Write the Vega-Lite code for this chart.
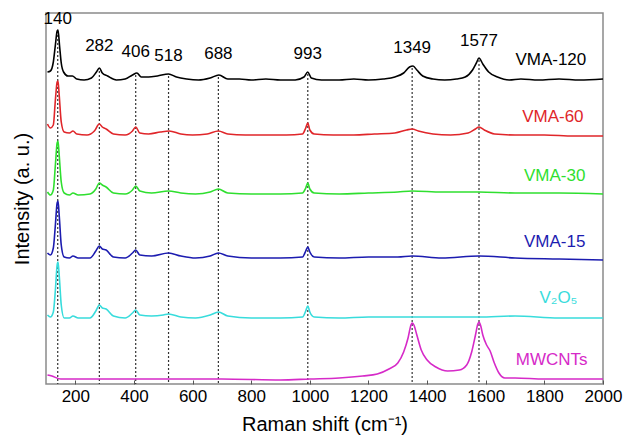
{
  "$schema": "https://vega.github.io/schema/vega-lite/v6.json",
  "width": 557,
  "height": 371,
  "autosize": "none",
  "padding": {"left": 46, "top": 13, "right": 24, "bottom": 51},
  "background": "white",
  "config": {
    "view": {"stroke": "#8a8a8a", "strokeWidth": 1.5},
    "font": "Liberation Sans"
  },
  "datasets": {
    "spec": [
      {"s":"VMA-120","x":105,"y":311},{"s":"VMA-120","x":115,"y":312},{"s":"VMA-120","x":125,"y":321},{"s":"VMA-120","x":132,"y":338},{"s":"VMA-120","x":138,"y":352},{"s":"VMA-120","x":141,"y":353},{"s":"VMA-120","x":146,"y":338},{"s":"VMA-120","x":152,"y":320},{"s":"VMA-120","x":160,"y":311},{"s":"VMA-120","x":175,"y":307},{"s":"VMA-120","x":190,"y":307},{"s":"VMA-120","x":205,"y":304},{"s":"VMA-120","x":230,"y":303},{"s":"VMA-120","x":255,"y":305},{"s":"VMA-120","x":272,"y":311},{"s":"VMA-120","x":282,"y":315},{"s":"VMA-120","x":292,"y":310},{"s":"VMA-120","x":310,"y":307},{"s":"VMA-120","x":340,"y":303},{"s":"VMA-120","x":370,"y":304},{"s":"VMA-120","x":395,"y":308},{"s":"VMA-120","x":410,"y":310},{"s":"VMA-120","x":425,"y":306},{"s":"VMA-120","x":450,"y":306},{"s":"VMA-120","x":480,"y":307},{"s":"VMA-120","x":518,"y":309},{"s":"VMA-120","x":545,"y":306},{"s":"VMA-120","x":580,"y":304},{"s":"VMA-120","x":620,"y":303},{"s":"VMA-120","x":660,"y":305},{"s":"VMA-120","x":690,"y":308},{"s":"VMA-120","x":720,"y":304},{"s":"VMA-120","x":760,"y":304},{"s":"VMA-120","x":800,"y":303},{"s":"VMA-120","x":850,"y":304},{"s":"VMA-120","x":900,"y":303},{"s":"VMA-120","x":950,"y":303},{"s":"VMA-120","x":980,"y":306},{"s":"VMA-120","x":993,"y":311},{"s":"VMA-120","x":1005,"y":305},{"s":"VMA-120","x":1040,"y":303},{"s":"VMA-120","x":1100,"y":303},{"s":"VMA-120","x":1150,"y":304},{"s":"VMA-120","x":1200,"y":303},{"s":"VMA-120","x":1250,"y":304},{"s":"VMA-120","x":1290,"y":306},{"s":"VMA-120","x":1320,"y":310},{"s":"VMA-120","x":1340,"y":316},{"s":"VMA-120","x":1352,"y":317},{"s":"VMA-120","x":1365,"y":313},{"s":"VMA-120","x":1385,"y":307},{"s":"VMA-120","x":1420,"y":304},{"s":"VMA-120","x":1460,"y":303},{"s":"VMA-120","x":1500,"y":304},{"s":"VMA-120","x":1530,"y":306},{"s":"VMA-120","x":1555,"y":313},{"s":"VMA-120","x":1568,"y":320},{"s":"VMA-120","x":1577,"y":325},{"s":"VMA-120","x":1590,"y":319},{"s":"VMA-120","x":1610,"y":311},{"s":"VMA-120","x":1640,"y":306},{"s":"VMA-120","x":1680,"y":303},{"s":"VMA-120","x":1720,"y":304},{"s":"VMA-120","x":1780,"y":303},{"s":"VMA-120","x":1850,"y":304},{"s":"VMA-120","x":1920,"y":303},{"s":"VMA-120","x":2000,"y":304},

      {"s":"VMA-60","x":105,"y":259},{"s":"VMA-60","x":115,"y":255},{"s":"VMA-60","x":125,"y":258},{"s":"VMA-60","x":132,"y":283},{"s":"VMA-60","x":138,"y":301},{"s":"VMA-60","x":141,"y":302},{"s":"VMA-60","x":145,"y":288},{"s":"VMA-60","x":152,"y":261},{"s":"VMA-60","x":162,"y":251},{"s":"VMA-60","x":180,"y":250},{"s":"VMA-60","x":192,"y":252},{"s":"VMA-60","x":205,"y":249},{"s":"VMA-60","x":240,"y":248},{"s":"VMA-60","x":265,"y":252},{"s":"VMA-60","x":282,"y":259},{"s":"VMA-60","x":292,"y":256},{"s":"VMA-60","x":305,"y":254},{"s":"VMA-60","x":330,"y":249},{"s":"VMA-60","x":370,"y":248},{"s":"VMA-60","x":395,"y":252},{"s":"VMA-60","x":406,"y":256},{"s":"VMA-60","x":420,"y":250},{"s":"VMA-60","x":450,"y":249},{"s":"VMA-60","x":490,"y":251},{"s":"VMA-60","x":520,"y":252},{"s":"VMA-60","x":560,"y":249},{"s":"VMA-60","x":600,"y":248},{"s":"VMA-60","x":650,"y":249},{"s":"VMA-60","x":688,"y":252},{"s":"VMA-60","x":720,"y":249},{"s":"VMA-60","x":780,"y":248},{"s":"VMA-60","x":850,"y":248},{"s":"VMA-60","x":920,"y":248},{"s":"VMA-60","x":975,"y":249},{"s":"VMA-60","x":986,"y":255},{"s":"VMA-60","x":993,"y":260},{"s":"VMA-60","x":1000,"y":253},{"s":"VMA-60","x":1015,"y":249},{"s":"VMA-60","x":1080,"y":248},{"s":"VMA-60","x":1150,"y":248},{"s":"VMA-60","x":1220,"y":249},{"s":"VMA-60","x":1290,"y":250},{"s":"VMA-60","x":1330,"y":253},{"s":"VMA-60","x":1349,"y":254},{"s":"VMA-60","x":1370,"y":252},{"s":"VMA-60","x":1420,"y":249},{"s":"VMA-60","x":1480,"y":248},{"s":"VMA-60","x":1540,"y":250},{"s":"VMA-60","x":1565,"y":254},{"s":"VMA-60","x":1577,"y":256},{"s":"VMA-60","x":1595,"y":253},{"s":"VMA-60","x":1630,"y":249},{"s":"VMA-60","x":1700,"y":248},{"s":"VMA-60","x":1800,"y":248},{"s":"VMA-60","x":1900,"y":247},{"s":"VMA-60","x":2000,"y":247},

      {"s":"VMA-30","x":105,"y":191},{"s":"VMA-30","x":115,"y":188},{"s":"VMA-30","x":125,"y":193},{"s":"VMA-30","x":132,"y":218},{"s":"VMA-30","x":138,"y":240},{"s":"VMA-30","x":141,"y":242},{"s":"VMA-30","x":145,"y":228},{"s":"VMA-30","x":152,"y":201},{"s":"VMA-30","x":162,"y":190},{"s":"VMA-30","x":180,"y":188},{"s":"VMA-30","x":192,"y":190},{"s":"VMA-30","x":210,"y":188},{"s":"VMA-30","x":250,"y":189},{"s":"VMA-30","x":270,"y":194},{"s":"VMA-30","x":282,"y":200},{"s":"VMA-30","x":292,"y":198},{"s":"VMA-30","x":305,"y":196},{"s":"VMA-30","x":330,"y":190},{"s":"VMA-30","x":370,"y":189},{"s":"VMA-30","x":395,"y":193},{"s":"VMA-30","x":406,"y":197},{"s":"VMA-30","x":420,"y":192},{"s":"VMA-30","x":460,"y":190},{"s":"VMA-30","x":518,"y":192},{"s":"VMA-30","x":560,"y":190},{"s":"VMA-30","x":610,"y":189},{"s":"VMA-30","x":660,"y":191},{"s":"VMA-30","x":688,"y":194},{"s":"VMA-30","x":720,"y":190},{"s":"VMA-30","x":800,"y":189},{"s":"VMA-30","x":900,"y":189},{"s":"VMA-30","x":975,"y":190},{"s":"VMA-30","x":986,"y":195},{"s":"VMA-30","x":993,"y":200},{"s":"VMA-30","x":1000,"y":194},{"s":"VMA-30","x":1015,"y":190},{"s":"VMA-30","x":1100,"y":189},{"s":"VMA-30","x":1200,"y":190},{"s":"VMA-30","x":1300,"y":191},{"s":"VMA-30","x":1349,"y":192},{"s":"VMA-30","x":1450,"y":191},{"s":"VMA-30","x":1577,"y":191},{"s":"VMA-30","x":1700,"y":190},{"s":"VMA-30","x":1850,"y":190},{"s":"VMA-30","x":2000,"y":189},

      {"s":"VMA-15","x":105,"y":130},{"s":"VMA-15","x":115,"y":128},{"s":"VMA-15","x":125,"y":135},{"s":"VMA-15","x":132,"y":158},{"s":"VMA-15","x":138,"y":180},{"s":"VMA-15","x":141,"y":182},{"s":"VMA-15","x":145,"y":168},{"s":"VMA-15","x":152,"y":138},{"s":"VMA-15","x":162,"y":126},{"s":"VMA-15","x":180,"y":125},{"s":"VMA-15","x":192,"y":127},{"s":"VMA-15","x":210,"y":125},{"s":"VMA-15","x":250,"y":125},{"s":"VMA-15","x":270,"y":132},{"s":"VMA-15","x":282,"y":137},{"s":"VMA-15","x":292,"y":134},{"s":"VMA-15","x":305,"y":133},{"s":"VMA-15","x":330,"y":126},{"s":"VMA-15","x":370,"y":125},{"s":"VMA-15","x":395,"y":130},{"s":"VMA-15","x":406,"y":133},{"s":"VMA-15","x":420,"y":128},{"s":"VMA-15","x":460,"y":127},{"s":"VMA-15","x":518,"y":130},{"s":"VMA-15","x":560,"y":127},{"s":"VMA-15","x":610,"y":125},{"s":"VMA-15","x":660,"y":127},{"s":"VMA-15","x":688,"y":130},{"s":"VMA-15","x":720,"y":127},{"s":"VMA-15","x":800,"y":125},{"s":"VMA-15","x":900,"y":125},{"s":"VMA-15","x":975,"y":126},{"s":"VMA-15","x":986,"y":132},{"s":"VMA-15","x":993,"y":136},{"s":"VMA-15","x":1000,"y":131},{"s":"VMA-15","x":1015,"y":126},{"s":"VMA-15","x":1100,"y":125},{"s":"VMA-15","x":1200,"y":126},{"s":"VMA-15","x":1300,"y":126},{"s":"VMA-15","x":1349,"y":127},{"s":"VMA-15","x":1450,"y":125},{"s":"VMA-15","x":1577,"y":127},{"s":"VMA-15","x":1700,"y":125},{"s":"VMA-15","x":1850,"y":124},{"s":"VMA-15","x":2000,"y":123},

      {"s":"V2O5","x":105,"y":68},{"s":"V2O5","x":115,"y":66},{"s":"V2O5","x":125,"y":71},{"s":"V2O5","x":132,"y":93},{"s":"V2O5","x":138,"y":118},{"s":"V2O5","x":141,"y":121},{"s":"V2O5","x":145,"y":108},{"s":"V2O5","x":152,"y":78},{"s":"V2O5","x":162,"y":65},{"s":"V2O5","x":180,"y":65},{"s":"V2O5","x":192,"y":67},{"s":"V2O5","x":210,"y":65},{"s":"V2O5","x":250,"y":65},{"s":"V2O5","x":270,"y":72},{"s":"V2O5","x":282,"y":78},{"s":"V2O5","x":292,"y":75},{"s":"V2O5","x":305,"y":74},{"s":"V2O5","x":330,"y":67},{"s":"V2O5","x":370,"y":65},{"s":"V2O5","x":395,"y":70},{"s":"V2O5","x":406,"y":73},{"s":"V2O5","x":420,"y":68},{"s":"V2O5","x":460,"y":67},{"s":"V2O5","x":500,"y":68},{"s":"V2O5","x":518,"y":69},{"s":"V2O5","x":560,"y":66},{"s":"V2O5","x":610,"y":65},{"s":"V2O5","x":660,"y":68},{"s":"V2O5","x":688,"y":71},{"s":"V2O5","x":720,"y":67},{"s":"V2O5","x":800,"y":65},{"s":"V2O5","x":900,"y":65},{"s":"V2O5","x":975,"y":66},{"s":"V2O5","x":986,"y":72},{"s":"V2O5","x":993,"y":77},{"s":"V2O5","x":1000,"y":71},{"s":"V2O5","x":1015,"y":66},{"s":"V2O5","x":1100,"y":65},{"s":"V2O5","x":1200,"y":66},{"s":"V2O5","x":1300,"y":66},{"s":"V2O5","x":1349,"y":66},{"s":"V2O5","x":1450,"y":66},{"s":"V2O5","x":1577,"y":66},{"s":"V2O5","x":1700,"y":67},{"s":"V2O5","x":1850,"y":65},{"s":"V2O5","x":2000,"y":65},

      {"s":"MWCNTs","x":105,"y":8},{"s":"MWCNTs","x":120,"y":7},{"s":"MWCNTs","x":150,"y":4},{"s":"MWCNTs","x":300,"y":4},{"s":"MWCNTs","x":500,"y":4},{"s":"MWCNTs","x":700,"y":4},{"s":"MWCNTs","x":900,"y":3},{"s":"MWCNTs","x":1000,"y":4},{"s":"MWCNTs","x":1100,"y":5},{"s":"MWCNTs","x":1180,"y":7},{"s":"MWCNTs","x":1230,"y":9},{"s":"MWCNTs","x":1270,"y":14},{"s":"MWCNTs","x":1300,"y":20},{"s":"MWCNTs","x":1320,"y":31},{"s":"MWCNTs","x":1335,"y":45},{"s":"MWCNTs","x":1345,"y":58},{"s":"MWCNTs","x":1349,"y":60},{"s":"MWCNTs","x":1355,"y":58},{"s":"MWCNTs","x":1365,"y":48},{"s":"MWCNTs","x":1380,"y":33},{"s":"MWCNTs","x":1400,"y":23},{"s":"MWCNTs","x":1430,"y":16},{"s":"MWCNTs","x":1470,"y":12},{"s":"MWCNTs","x":1510,"y":13},{"s":"MWCNTs","x":1535,"y":18},{"s":"MWCNTs","x":1552,"y":31},{"s":"MWCNTs","x":1565,"y":48},{"s":"MWCNTs","x":1573,"y":59},{"s":"MWCNTs","x":1577,"y":61},{"s":"MWCNTs","x":1583,"y":57},{"s":"MWCNTs","x":1590,"y":48},{"s":"MWCNTs","x":1603,"y":38},{"s":"MWCNTs","x":1615,"y":32},{"s":"MWCNTs","x":1628,"y":21},{"s":"MWCNTs","x":1645,"y":10},{"s":"MWCNTs","x":1665,"y":5},{"s":"MWCNTs","x":1700,"y":5},{"s":"MWCNTs","x":1800,"y":4},{"s":"MWCNTs","x":2000,"y":4}
    ],
    "peaks": [
      {"p":140,"top":352,"ly":355},
      {"p":282,"top":312,"ly":328},
      {"p":406,"top":308,"ly":322},
      {"p":518,"top":307,"ly":318},
      {"p":688,"top":306,"ly":320},
      {"p":993,"top":309,"ly":320},
      {"p":1349,"top":315,"ly":326},
      {"p":1577,"top":323,"ly":333}
    ],
    "labels": [
      {"s":"VMA-120","t":"VMA-120","x":1822,"y":323},
      {"s":"VMA-60","t":"VMA-60","x":1829,"y":266},
      {"s":"VMA-30","t":"VMA-30","x":1835,"y":207},
      {"s":"VMA-15","t":"VMA-15","x":1835,"y":141},
      {"s":"V2O5","t":"V₂O₅","x":1848,"y":85},
      {"s":"MWCNTs","t":"MWCNTs","x":1825,"y":23}
    ]
  },
  "encoding": {
    "x": {
      "type": "quantitative",
      "scale": {"domain": [100, 2000], "nice": false, "zero": false},
      "axis": {
        "title": "Raman shift (cm⁻¹)",
        "values": [200, 400, 600, 800, 1000, 1200, 1400, 1600, 1800, 2000],
        "format": "d",
        "labelOverlap": false,
        "labelFlush": false,
        "grid": false,
        "domain": false,
        "tickSize": -4,
        "tickColor": "#555",
        "labelPadding": 8,
        "labelFontSize": 17,
        "labelColor": "#000",
        "labelFont": "Liberation Sans",
        "titleFont": "Liberation Sans",
        "titleFontSize": 20,
        "titleFontWeight": "normal",
        "titleColor": "#000",
        "titlePadding": 10
      }
    },
    "y": {
      "type": "quantitative",
      "scale": {"domain": [-1, 370], "nice": false, "zero": false},
      "axis": {
        "title": "Intensity (a. u.)",
        "labels": false,
        "ticks": false,
        "grid": false,
        "domain": false,
        "titleFont": "Liberation Sans",
        "titleFontSize": 20,
        "titleFontWeight": "normal",
        "titleColor": "#000",
        "titlePadding": 14
      }
    }
  },
  "layer": [
    {
      "data": {"name": "peaks"},
      "mark": {"type": "rule", "strokeDash": [2, 2], "strokeWidth": 1.2, "color": "#333"},
      "encoding": {
        "x": {"field": "p", "type": "quantitative"},
        "y": {"field": "top", "type": "quantitative"},
        "y2": {"datum": -1}
      }
    },
    {
      "data": {"name": "spec"},
      "mark": {"type": "line", "strokeWidth": 1.6, "interpolate": "monotone"},
      "encoding": {
        "x": {"field": "x", "type": "quantitative"},
        "y": {"field": "y", "type": "quantitative"},
        "color": {
          "field": "s", "type": "nominal", "legend": null,
          "scale": {
            "domain": ["VMA-120", "VMA-60", "VMA-30", "VMA-15", "V2O5", "MWCNTs"],
            "range": ["#000000", "#e0262a", "#2fdf2f", "#1c1cb0", "#38dcdc", "#d62ac8"]
          }
        }
      }
    },
    {
      "data": {"name": "peaks"},
      "mark": {"type": "text", "fontSize": 17, "font": "Liberation Sans", "baseline": "bottom", "color": "#000"},
      "encoding": {
        "x": {"field": "p", "type": "quantitative"},
        "y": {"field": "ly", "type": "quantitative"},
        "text": {"field": "p", "type": "nominal"}
      }
    },
    {
      "data": {"name": "labels"},
      "mark": {"type": "text", "fontSize": 17, "font": "Liberation Sans", "baseline": "middle"},
      "encoding": {
        "x": {"field": "x", "type": "quantitative"},
        "y": {"field": "y", "type": "quantitative"},
        "text": {"field": "t", "type": "nominal"},
        "color": {"field": "s", "type": "nominal", "legend": null}
      }
    }
  ]
}
